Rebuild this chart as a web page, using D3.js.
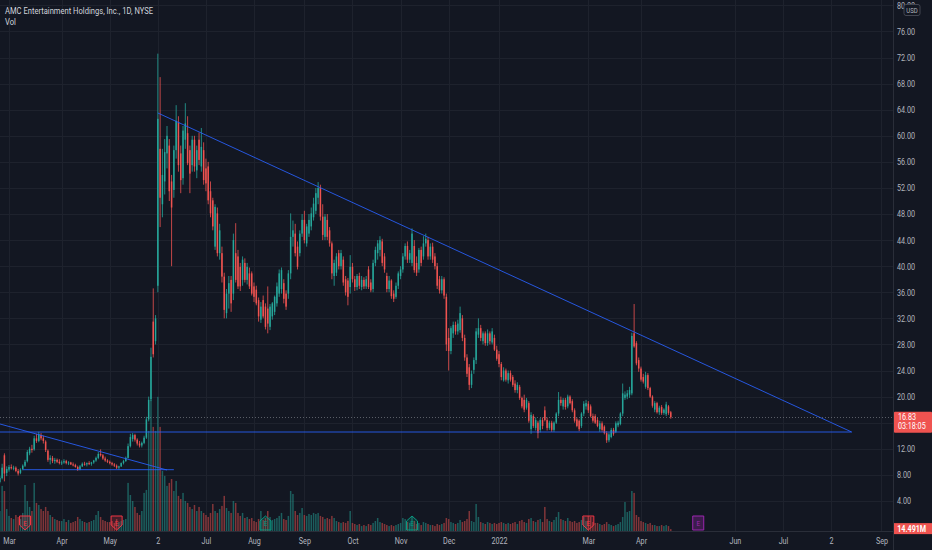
<!DOCTYPE html>
<html>
<head>
<meta charset="utf-8">
<script src="https://cdn.jsdelivr.net/npm/d3@7"></script>
<style>
  html, body { margin: 0; padding: 0; background: #131722; }
  svg { display: block; }
  text { font-family: Roboto, "Liberation Sans", sans-serif; }
</style>
</head>
<body>
<svg id="chart" width="932" height="550"></svg>
<script>
// ---- daily candles, [open, high, low, close], one array per month ----
const feb21 = [[6.9,7.8,6.7,7.5],[7.5,9.7,7.3,9.1],[11.0,11.3,7.0,8.2],[8.3,9.3,7.8,8.9]];
const mar21 = [
  [8.8,9.5,8.5,9.2],[9.2,9.6,8.8,9.0],[9.0,9.4,8.7,9.1],[9.1,9.3,8.4,8.6],[8.6,8.9,7.9,8.2],
  [8.3,9.0,8.1,8.8],[8.9,9.6,8.7,9.4],[9.4,10.3,9.2,10.0],[10.1,11.8,9.9,11.5],[11.3,12.3,11.0,12.0],
  [12.0,12.6,11.4,11.8],[11.9,14.0,11.7,13.6],[13.6,14.3,12.9,13.2],[13.2,14.6,13.0,14.2],[14.1,14.4,13.3,13.6],
  [13.6,14.0,12.8,13.2],[13.1,13.3,11.5,11.8],[11.7,11.9,10.0,10.3],[10.3,11.0,9.6,10.6],[10.6,10.9,9.8,10.1],
  [10.1,10.6,9.7,10.3],[10.3,10.5,9.8,10.0],[10.0,10.4,9.6,9.8]];
const apr21 = [
  [9.8,10.2,9.5,9.9],[9.9,10.4,9.7,10.1],[10.1,10.3,9.6,9.8],[9.8,10.1,9.5,9.9],[9.9,10.0,9.5,9.6],
  [9.6,9.9,9.3,9.5],[9.5,9.7,9.1,9.2],[9.2,9.4,8.6,8.8],[8.8,9.5,8.7,9.3],[9.3,9.9,9.2,9.7],
  [9.7,10.0,9.4,9.6],[9.6,9.9,9.3,9.8],[9.8,10.1,9.5,9.7],[9.7,10.0,9.4,9.9],[9.9,10.3,9.7,10.2],
  [10.2,10.8,10.0,10.6],[10.6,11.5,10.4,11.2],[11.2,11.9,10.8,11.0],[11.0,11.2,10.3,10.5],[10.5,10.8,10.0,10.2],
  [10.2,10.4,9.8,10.0]];
const may21 = [
  [10.0,10.2,9.6,9.8],[9.8,10.0,9.4,9.6],[9.6,9.8,9.2,9.4],[9.4,9.6,8.9,9.1],[9.1,9.4,8.8,9.3],
  [9.3,9.9,9.2,9.8],[9.8,10.3,9.6,10.1],[10.1,10.8,10.0,10.6],[10.6,12.8,10.5,12.4],[12.4,14.3,12.2,13.8],
  [13.5,14.4,13.1,14.1],[14.1,14.3,13.1,13.4],[13.4,13.6,12.5,12.8],[12.8,13.2,12.2,12.5],[12.5,13.1,12.2,12.9],
  [12.9,14.0,12.7,13.7],[13.7,16.9,13.5,16.5],[16.5,20.0,16.2,19.5],[19.6,27.5,19.3,26.1],[31.5,36.6,26.0,26.5]];
const jun21 = [
  [28.5,32.5,28.0,32.0],[37.0,72.6,36.0,62.6],[58.0,69.0,46.0,50.5],[49.5,58.0,47.5,54.0],[53.0,59.5,51.0,57.5],
  [57.3,61.5,55.0,60.0],[58.5,59.5,50.0,51.5],[53.0,54.0,40.0,49.0],[51.7,58.5,50.5,57.8],[57.8,64.7,56.5,62.3],
  [62.0,63.0,54.5,55.5],[57.3,58.5,51.2,53.2],[53.5,61.5,52.5,60.8],[59.4,65.0,58.0,61.9],[60.4,63.0,55.5,55.8],
  [57.8,58.5,51.2,54.2],[55.5,60.0,54.5,59.4],[59.4,60.0,54.5,55.3],[54.7,58.5,53.5,57.8],[59.4,60.5,55.5,56.3],
  [55.3,61.2,54.5,58.3],[57.8,59.0,52.5,53.2]];
const jul21 = [
  [55.0,56.5,51.5,52.7],[55.3,56.0,49.5,50.1],[51.5,53.0,47.5,48.1],[50.1,50.5,45.5,46.1],[43.0,49.5,42.5,49.1],
  [48.1,49.0,41.5,42.0],[42.0,46.5,41.0,45.5],[42.0,43.0,37.5,38.4],[38.4,39.0,32.0,33.3],[32.8,36.5,32.0,35.8],
  [35.8,38.5,33.5,37.4],[37.9,38.5,33.0,34.3],[35.8,45.0,34.8,44.0],[42.0,46.6,37.5,37.9],[41.5,42.5,36.5,36.9],
  [39.9,40.5,36.2,36.9],[37.9,41.5,37.0,41.0],[40.5,41.2,37.5,37.9],[37.9,40.5,37.2,39.9],[38.9,39.8,36.5,36.9],
  [38.9,39.2,35.5,35.8]];
const aug21 = [
  [36.9,37.5,34.5,35.3],[36.4,37.0,34.0,34.3],[34.8,35.2,31.5,32.3],[31.8,34.5,31.3,33.8],[34.8,35.5,32.0,32.3],
  [33.8,34.3,30.3,30.7],[33.5,36.9,29.7,31.2],[30.7,34.2,30.2,33.8],[32.3,34.5,31.8,34.3],[33.0,35.5,32.5,35.3],
  [34.3,37.5,33.8,36.9],[35.8,39.5,35.3,38.9],[36.5,39.8,35.8,39.4],[37.4,38.0,34.3,35.0],[35.8,36.3,33.3,33.8],
  [35.8,39.4,35.0,38.9],[38.9,48.1,38.0,44.5],[44.5,47.0,43.0,45.5],[45.0,46.5,41.5,42.0],[43.0,43.8,39.5,39.9],
  [42.0,45.5,41.5,45.0],[45.0,48.0,44.5,47.1]];
const sep21 = [
  [47.1,48.5,43.5,44.0],[43.5,46.5,43.0,46.1],[45.0,48.0,44.5,47.1],[46.1,49.0,45.5,48.1],[47.5,50.5,47.0,49.6],
  [48.5,52.0,48.0,51.2],[50.5,52.9,49.5,52.0],[52.0,52.5,47.0,47.6],[47.6,49.5,44.0,44.8],[44.5,48.0,44.0,47.6],
  [47.1,48.0,44.0,44.5],[45.5,46.0,43.0,43.5],[43.5,43.8,38.0,38.9],[38.5,41.0,37.0,40.5],[39.0,42.0,38.5,41.5],
  [42.0,42.5,39.5,40.0],[40.0,42.5,39.5,42.0],[41.0,41.5,37.0,37.5],[38.0,38.5,35.5,36.0],[37.8,38.2,34.0,35.3],
  [36.8,41.7,35.8,39.9]];
const oct21 = [
  [39.9,40.5,37.5,38.0],[38.0,38.5,36.2,36.8],[36.8,38.8,36.3,38.5],[38.5,39.0,36.5,37.0],[36.8,38.5,36.3,37.9],
  [37.9,38.3,36.5,36.9],[36.9,38.5,36.5,38.0],[39.5,40.0,36.5,36.8],[37.5,38.0,36.0,36.3],[36.5,41.0,36.0,40.5],
  [40.5,43.0,40.0,42.5],[42.0,44.0,41.0,43.5],[42.5,44.6,41.5,44.0],[43.8,44.2,40.0,40.5],[41.5,42.0,39.0,39.5],
  [38.5,39.0,36.0,36.5],[36.5,38.5,36.0,37.8],[37.8,38.0,35.0,35.4],[35.8,36.3,34.5,35.0],[35.3,37.5,35.0,37.0],
  [37.0,39.2,36.5,38.9]];
const nov21 = [
  [38.5,40.0,38.0,39.5],[39.5,42.0,39.0,41.5],[41.5,43.5,41.0,43.1],[43.1,43.8,40.5,41.0],[41.0,42.5,40.5,42.0],
  [40.5,45.8,40.0,45.0],[43.1,44.0,39.0,39.4],[40.5,41.5,38.5,39.0],[39.5,42.8,39.0,42.5],[42.5,43.0,40.0,40.5],
  [41.5,44.6,41.0,43.5],[43.5,45.0,43.0,44.2],[44.0,44.5,41.0,41.5],[41.5,43.5,41.0,43.0],[43.0,43.6,40.5,41.0],
  [41.5,42.0,39.5,40.0],[40.0,40.5,36.5,37.0],[38.0,38.5,35.8,36.3],[36.3,38.5,35.8,38.0],[38.0,38.3,35.0,35.5],
  [35.3,35.8,27.0,28.0]];
const dec21 = [
  [29.0,30.5,24.0,27.0],[27.0,30.8,26.5,30.5],[29.7,31.5,29.0,31.0],[31.0,31.5,29.5,30.0],[30.0,31.8,29.5,31.2],
  [30.2,33.8,29.8,32.8],[32.0,32.5,28.5,29.0],[29.0,29.5,25.5,26.0],[26.0,26.5,23.0,23.5],[24.5,25.0,21.0,21.8],
  [21.8,24.0,21.3,23.5],[24.1,26.0,23.5,25.6],[25.6,30.5,25.0,30.0],[29.5,32.0,29.0,30.5],[30.5,31.0,28.5,29.0],
  [28.5,30.0,28.0,29.7],[29.7,30.0,27.8,28.2],[28.2,30.3,27.8,29.7],[29.7,30.0,28.0,28.5],[28.3,30.5,28.0,30.0],
  [29.0,29.5,27.0,27.2],[27.2,27.8,25.5,25.8]];
const jan22 = [
  [26.5,27.0,24.5,25.0],[25.0,25.3,22.5,23.0],[22.5,24.5,22.3,24.0],[24.0,24.3,22.3,22.6],[22.5,24.0,22.0,23.6],
  [23.6,24.0,22.3,22.6],[23.0,23.3,21.5,21.8],[22.0,22.5,20.6,21.0],[21.0,22.2,20.5,21.8],[21.5,21.8,19.5,19.8],
  [19.8,20.0,18.2,18.5],[19.5,20.3,17.6,18.0],[18.3,19.8,18.0,19.5],[19.0,19.3,16.0,16.3],[15.0,17.6,14.3,17.2],
  [17.0,17.3,15.2,15.5],[15.2,16.8,14.8,16.4],[16.0,16.3,13.6,14.4],[14.9,16.7,14.5,16.4],[16.4,16.8,15.0,15.5]];
const feb22 = [
  [17.9,18.5,16.2,16.4],[16.4,16.8,14.8,15.2],[15.2,16.3,14.9,16.0],[16.0,16.3,14.6,14.9],[14.9,16.2,14.6,16.0],
  [16.0,17.6,15.8,17.4],[17.4,20.7,17.0,19.5],[19.5,20.0,18.6,19.0],[18.5,19.8,18.0,19.5],[19.5,19.8,18.0,18.4],
  [18.5,20.3,18.2,20.0],[20.0,20.2,18.8,19.0],[19.3,19.6,17.6,17.9],[17.9,18.2,16.0,16.3],[16.5,16.8,15.3,15.5],
  [16.3,16.5,14.7,15.0],[15.5,17.6,15.2,17.4],[17.4,19.3,17.0,18.9],[18.5,19.5,18.0,19.0]];
const mar22 = [
  [18.9,19.3,17.5,17.9],[18.5,18.8,16.8,17.0],[17.0,17.4,16.0,16.3],[17.0,17.3,15.8,16.0],[16.4,16.8,15.3,15.5],
  [15.0,16.3,14.6,15.9],[15.9,16.2,14.6,14.9],[15.4,15.6,14.2,14.4],[14.4,14.7,12.9,13.3],[13.3,14.5,13.0,14.2],
  [13.8,15.2,13.6,14.9],[14.9,15.2,14.0,14.3],[14.6,16.2,14.4,15.9],[15.6,16.3,15.3,16.0],[15.8,17.6,15.6,17.4],
  [17.4,22.0,17.0,20.5],[19.8,20.8,19.5,20.3],[20.0,21.0,19.6,20.5],[20.3,21.5,19.8,21.0],[20.5,29.8,20.2,29.3],
  [29.7,34.2,27.5,27.7],[28.2,28.5,24.8,25.1],[25.6,26.0,23.8,24.3]];
const apr22 = [
  [24.3,24.6,22.3,22.6],[23.0,23.5,22.0,22.3],[21.5,23.8,21.2,23.3],[23.3,23.6,21.0,21.3],[21.3,21.5,19.8,20.0],
  [20.0,20.2,18.3,18.6],[18.0,19.3,17.6,19.0],[19.0,19.2,17.4,17.6],[17.6,18.6,17.2,18.3],[18.4,18.7,17.2,17.5],
  [17.5,18.2,17.2,18.0],[17.3,19.2,17.0,18.8],[18.5,18.7,17.2,17.5],[17.6,17.8,16.6,16.83]];

// ---- daily volume in millions, same order ----
const volFeb21 = [154,347,308,169];
const volMar21 = [116,100,92,123,108,92,139,354,231,185,154,370,216,200,169,154,185,154,123,108,92,85,77];
const volApr21 = [77,92,69,85,62,69,77,108,92,77,69,62,69,77,85,123,154,108,85,77,69];
const volMay21 = [69,77,62,92,69,77,85,92,370,277,231,185,139,123,154,293,316,770,1009,801];
const volJun21 = [770,1032,801,462,424,347,370,400,308,385,270,246,293,231,216,185,169,200,154,185,154,139];
const volJul21 = [123,108,139,208,154,139,169,193,270,177,154,139,231,216,139,116,139,100,108,92,100];
const volAug21 = [77,69,92,154,85,100,154,108,85,92,100,116,139,92,85,116,308,285,154,123,139,177];
const volSep21 = [123,116,131,123,139,131,139,116,108,92,100,92,116,100,77,69,62,69,62,77,154];
const volOct21 = [62,54,46,54,38,46,38,54,46,62,77,100,69,62,54,46,38,46,38,46,54];
const volNov21 = [62,100,92,69,62,108,77,54,62,46,69,62,54,46,46,38,54,46,54,62,100];
const volDec21 = [92,69,62,54,62,85,69,77,92,154,77,69,208,108,69,62,54,69,62,54,62,54];
const volJan22 = [62,69,62,54,62,54,62,69,54,77,85,69,62,92,100,77,69,85,92,69];
const volFeb22 = [185,92,77,69,85,108,146,92,85,77,100,77,69,77,62,69,85,108,77];
const volMar22 = [116,108,69,62,62,54,46,54,69,54,46,38,46,54,69,108,223,146,154,308,293,123,108];
const volApr22 = [77,69,62,54,62,46,46,38,38,46,38,46,38,14.491];

const firstBarDate = "2021-02-23";
const holidays = ["2021-04-02","2021-05-31","2021-07-05","2021-09-06","2021-11-25","2021-12-24",
  "2022-01-17","2022-02-21","2022-04-15","2022-05-30","2022-06-20","2022-07-04","2022-09-05"];

// time axis labels
const tickDates = ["2021-03-01","2021-04-01","2021-05-03","2021-06-02","2021-07-01","2021-08-02","2021-09-01",
  "2021-10-01","2021-11-01","2021-12-01","2022-01-03","2022-03-01","2022-04-01","2022-06-01","2022-07-01",
  "2022-08-02","2022-09-01"];
const tickTexts = ["Mar","Apr","May","2","Jul","Aug","Sep","Oct","Nov","Dec","2022","Mar","Apr","Jun","Jul","2","Sep"];

const priceTicks = d3.range(4, 81, 4);

// earnings flags
const earningsDates = ["2021-03-10","2021-05-06","2021-08-09","2021-11-08","2022-03-01","2022-05-09"];
const earningsKinds = ["miss","miss","beat","beat","miss","next"];

// drawn trend lines: [date, price] pairs
const trendLines = [
  [["2021-02-22", 15.9], ["2021-06-08", 8.74]],
  [["2021-03-09", 8.79], ["2021-06-11", 8.79]],
  [["2021-06-02", 63.5], ["2022-08-15", 14.57]],
  [["2021-02-22", 14.57], ["2022-08-15", 14.57]]
];

const lastPrice = 16.83;
const countdown = "03:18:05";
const lastVolumeText = "14.491M";

// ---- layout ----
const plotRight = 893, plotBottom = 531;
const bg = "#131722", gridColor = "#1e222d", axisText = "#b2b5be";
const upColor = "#26a69a", downColor = "#ef5350";
const upVol = "rgba(38,166,154,0.5)", downVol = "rgba(239,83,80,0.5)";
const squeeze = "scale(0.8,1)";

// trading calendar -> bar index
const fmt = d3.utcFormat("%Y-%m-%d");
const tradingDays = d3.utcDays(new Date("2021-02-15T00:00Z"), new Date("2022-10-01T00:00Z"))
  .filter(d => d.getUTCDay() % 6 !== 0)
  .map(fmt)
  .filter(s => !holidays.includes(s));
const dayIndex = new Map(tradingDays.map((s, i) => [s, i]));
const idx = s => dayIndex.get(s);

const ohlc = [feb21, mar21, apr21, may21, jun21, jul21, aug21, sep21, oct21, nov21, dec21, jan22, feb22, mar22, apr22].flat();
const vols = [volFeb21, volMar21, volApr21, volMay21, volJun21, volJul21, volAug21, volSep21, volOct21,
  volNov21, volDec21, volJan22, volFeb22, volMar22, volApr22].flat();
const k0 = idx(firstBarDate);
const bars = ohlc.map((r, k) => ({ i: k0 + k, o: r[0], h: r[1], l: r[2], c: r[3], v: vols[k] }));

const x = d3.scaleLinear()
  .domain([idx("2021-03-01"), idx("2022-04-01")])
  .range([9, 641]);
const y = d3.scaleLinear().domain([0, 80]).range([527, 5.4]);
const yVol = d3.scaleLinear().domain([0, 1000]).range([plotBottom, plotBottom - 130]);

const svg = d3.select("#chart");
svg.append("rect").attr("width", 932).attr("height", 550).attr("fill", bg);
svg.append("defs").append("clipPath").attr("id", "plot")
  .append("rect").attr("width", plotRight).attr("height", plotBottom);

// grid
const grid = svg.append("g").attr("stroke", gridColor).attr("stroke-width", 1);
grid.selectAll(".gh").data(priceTicks).join("line").attr("class", "gh")
  .attr("x1", 0).attr("x2", plotRight)
  .attr("y1", d => Math.round(y(d)) + 0.5).attr("y2", d => Math.round(y(d)) + 0.5);
grid.selectAll(".gv").data(tickDates).join("line").attr("class", "gv")
  .attr("y1", 0).attr("y2", plotBottom)
  .attr("x1", d => Math.round(x(idx(d))) + 0.5).attr("x2", d => Math.round(x(idx(d))) + 0.5);

const plot = svg.append("g").attr("clip-path", "url(#plot)");
const bw = 1.5;

// volume
plot.append("g").selectAll("rect").data(bars).join("rect")
  .attr("x", d => x(d.i) - bw / 2)
  .attr("width", bw)
  .attr("y", d => yVol(d.v))
  .attr("height", d => plotBottom - yVol(d.v))
  .attr("fill", d => d.c >= d.o ? upVol : downVol);

// candles
const candles = plot.append("g").selectAll("g").data(bars).join("g");
candles.append("line")
  .attr("x1", d => x(d.i)).attr("x2", d => x(d.i))
  .attr("y1", d => y(d.h)).attr("y2", d => y(d.l))
  .attr("stroke", d => d.c >= d.o ? upColor : downColor)
  .attr("stroke-width", 0.8);
candles.append("rect")
  .attr("x", d => x(d.i) - bw / 2)
  .attr("width", bw)
  .attr("y", d => y(Math.max(d.o, d.c)))
  .attr("height", d => Math.max(1, Math.abs(y(d.o) - y(d.c))))
  .attr("fill", d => d.c >= d.o ? upColor : downColor);

// trend lines
plot.append("g").selectAll("line").data(trendLines).join("line")
  .attr("x1", d => x(idx(d[0][0]))).attr("y1", d => y(d[0][1]))
  .attr("x2", d => x(idx(d[1][0]))).attr("y2", d => y(d[1][1]))
  .attr("stroke", "#2962ff").attr("stroke-opacity", 0.85).attr("stroke-width", 1);

// last price line
plot.append("line")
  .attr("x1", 0).attr("x2", plotRight)
  .attr("y1", Math.round(y(lastPrice)) + 0.5).attr("y2", Math.round(y(lastPrice)) + 0.5)
  .attr("stroke", "#8a8d96").attr("stroke-opacity", 0.6).attr("stroke-dasharray", "1,2");

// earnings flags
const flagStyle = {
  miss: { stroke: "#f23645", fill: "rgba(242,54,69,0.22)", path: "M-5.5,-7H5.5V2L0,7L-5.5,2Z" },
  beat: { stroke: "#089981", fill: "rgba(8,153,129,0.22)", path: "M-5.5,7H5.5V-2L0,-7L-5.5,-2Z" },
  next: { stroke: "#9c27b0", fill: "rgba(156,39,176,0.3)", path: "M-5.5,-7H5.5V7H-5.5Z" }
};
const flags = svg.append("g").selectAll("g").data(earningsDates).join("g")
  .attr("transform", d => `translate(${x(idx(d))},523)`);
flags.append("path")
  .attr("d", (d, i) => flagStyle[earningsKinds[i]].path)
  .attr("fill", (d, i) => flagStyle[earningsKinds[i]].fill)
  .attr("stroke", (d, i) => flagStyle[earningsKinds[i]].stroke)
  .attr("stroke-width", 1);
flags.append("text")
  .attr("text-anchor", "middle").attr("y", 3).attr("font-size", 8)
  .attr("transform", squeeze)
  .attr("fill", (d, i) => flagStyle[earningsKinds[i]].stroke)
  .text("E");

// axis panels
svg.append("line").attr("x1", plotRight + 0.5).attr("x2", plotRight + 0.5).attr("y1", 0).attr("y2", 550)
  .attr("stroke", "#2a2e39");
svg.append("line").attr("x1", 0).attr("x2", plotRight).attr("y1", plotBottom + 0.5).attr("y2", plotBottom + 0.5)
  .attr("stroke", "#2a2e39");

// price labels hidden behind the last-price tag are left out, as on the reference
const yLabelTicks = priceTicks.filter(d => Math.abs(y(d) - y(lastPrice)) > 12);
const yAxis = svg.append("g")
  .attr("transform", `translate(${plotRight},0)`)
  .call(d3.axisRight(y).tickValues(yLabelTicks).tickFormat(d3.format(".2f")).tickSize(0).tickPadding(5));
yAxis.select(".domain").remove();
yAxis.selectAll("text").attr("fill", axisText).attr("font-size", 9).attr("transform", squeeze);

const xAxis = svg.append("g")
  .attr("transform", `translate(0,${plotBottom})`)
  .call(d3.axisBottom(x).tickValues(tickDates.map(idx)).tickFormat((d, i) => tickTexts[i]).tickSize(0).tickPadding(7));
xAxis.select(".domain").remove();
xAxis.selectAll("text").attr("fill", axisText).attr("font-size", 9).attr("transform", squeeze);

// USD badge
const usd = svg.append("g").attr("transform", "translate(912,10)");
usd.append("rect").attr("x", -8).attr("y", -5.5).attr("width", 16).attr("height", 11).attr("rx", 2)
  .attr("fill", bg).attr("stroke", "#434651");
usd.append("text").attr("text-anchor", "middle").attr("y", 2.8).attr("font-size", 7.5)
  .attr("fill", axisText).attr("transform", squeeze).text("USD");

// last price tag
const tag = svg.append("g").attr("transform", `translate(${plotRight + 1},${y(lastPrice)})`);
tag.append("rect").attr("x", 0).attr("y", -5.5).attr("width", 38).attr("height", 21).attr("rx", 1).attr("fill", downColor);
tag.append("text").attr("x", 5).attr("y", 2.5).attr("font-size", 9).attr("fill", "#fff")
  .attr("transform", squeeze).text(d3.format(".2f")(lastPrice));
tag.append("text").attr("x", 5).attr("y", 12).attr("font-size", 9).attr("fill", "#fff")
  .attr("transform", squeeze).text(countdown);

// last volume tag
const vtag = svg.append("g").attr("transform", `translate(${plotRight + 1},${yVol(vols[vols.length - 1])})`);
vtag.append("rect").attr("x", 0).attr("y", -6).attr("width", 38).attr("height", 11).attr("fill", downColor);
vtag.append("text").attr("x", 4).attr("y", 2.5).attr("font-size", 9).attr("font-weight", "bold").attr("fill", "#fff")
  .attr("transform", squeeze).text(lastVolumeText);

// legend
svg.append("g").attr("transform", "translate(5,14)")
  .append("text").attr("font-size", 9.5).attr("fill", "#d1d4dc").attr("transform", squeeze)
  .text("AMC Entertainment Holdings, Inc., 1D, NYSE");
svg.append("g").attr("transform", "translate(5,25)")
  .append("text").attr("font-size", 9.5).attr("fill", "#d1d4dc").attr("transform", squeeze)
  .text("Vol");
</script>
</body>
</html>
